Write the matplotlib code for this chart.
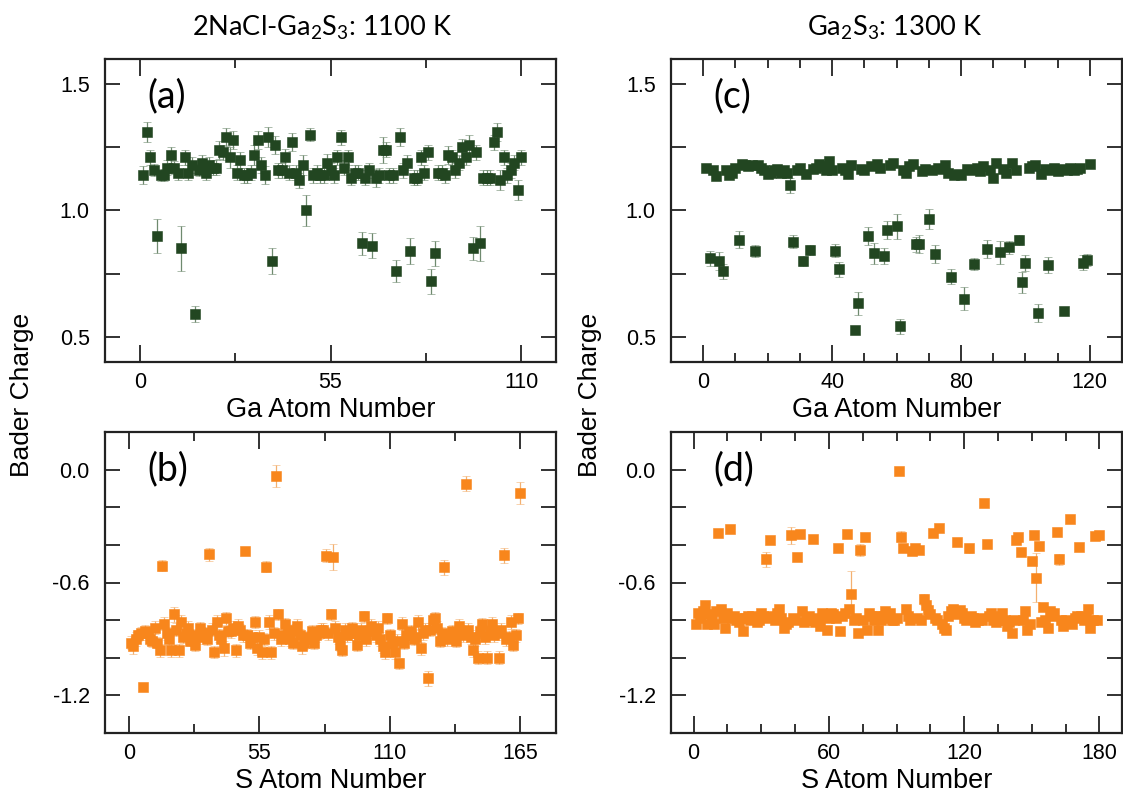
import matplotlib
matplotlib.use("Agg")
import matplotlib.pyplot as plt
from matplotlib.ticker import FixedLocator
import numpy as np

plt.rcParams['font.family'] = ['Liberation Sans', 'DejaVu Sans']
plt.rcParams['mathtext.fontset'] = 'custom'
plt.rcParams['mathtext.rm'] = 'Lato'

# ---------------- data ----------------
# (a) Ga atoms, 2NaCl-Ga2S3 at 1100 K
ga_1100_charge = [
    1.14, 1.31, 1.21, 1.16, 0.90, 1.14, 1.14, 1.17, 1.22, 1.17,
    1.15, 0.85, 1.21, 1.15, 1.18, 0.59, 1.16, 1.19, 1.15, 1.18,
    1.17, 1.17, 1.24, 1.23, 1.29, 1.21, 1.28, 1.15, 1.20, 1.14,
    1.14, 1.15, 1.22, 1.28, 1.18, 1.14, 1.29, 0.80, 1.26, 1.16,
    1.16, 1.21, 1.15, 1.27, 1.15, 1.12, 1.18, 1.00, 1.30, 1.14,
    1.15, 1.14, 1.14, 1.19, 1.16, 1.14, 1.21, 1.29, 1.17, 1.21,
    1.13, 1.15, 1.15, 0.87, 1.13, 1.16, 0.86, 1.13, 1.14, 1.24,
    1.24, 1.14, 1.14, 0.76, 1.29, 1.16, 1.19, 0.84, 1.13, 1.13,
    1.21, 1.15, 1.23, 0.72, 0.83, 1.15, 1.15, 1.14, 1.22, 1.21,
    1.16, 1.19, 1.25, 1.21, 1.26, 0.85, 1.23, 0.87, 1.13, 1.13,
    1.13, 1.27, 1.31, 1.12, 1.21, 1.14, 1.16, 1.19, 1.08, 1.21,
]
ga_1100_err = [
    0.035, 0.04, 0.03, 0.025, 0.067, 0.025, 0.025, 0.03, 0.03, 0.025,
    0.03, 0.09, 0.03, 0.03, 0.03, 0.03, 0.025, 0.03, 0.03, 0.03,
    0.03, 0.03, 0.035, 0.03, 0.035, 0.04, 0.035, 0.03, 0.03, 0.03,
    0.03, 0.03, 0.04, 0.035, 0.03, 0.035, 0.04, 0.05, 0.035, 0.03,
    0.03, 0.035, 0.03, 0.035, 0.03, 0.03, 0.04, 0.06, 0.025, 0.03,
    0.03, 0.03, 0.03, 0.035, 0.03, 0.03, 0.03, 0.03, 0.03, 0.03,
    0.03, 0.03, 0.03, 0.045, 0.03, 0.03, 0.05, 0.035, 0.03, 0.05,
    0.03, 0.03, 0.03, 0.045, 0.035, 0.03, 0.03, 0.05, 0.03, 0.03,
    0.03, 0.03, 0.03, 0.05, 0.05, 0.03, 0.03, 0.03, 0.035, 0.03,
    0.03, 0.03, 0.035, 0.03, 0.04, 0.045, 0.03, 0.07, 0.03, 0.03,
    0.03, 0.03, 0.035, 0.04, 0.03, 0.03, 0.03, 0.03, 0.04, 0.03,
]

# (b) S atoms, 2NaCl-Ga2S3 at 1100 K
s_1100_charge = [
    -0.92, -0.94, -0.90, -0.88, -0.87, -1.156, -0.86, -0.87, -0.90, -0.91,
    -0.84, -0.92, -0.96, -0.51, -0.82, -0.87, -0.90, -0.96, -0.77, -0.85,
    -0.96, -0.81, -0.89, -0.87, -0.84, -0.91, -0.88, -0.93, -0.89, -0.84,
    -0.87, -0.87, -0.90, -0.45, -0.85, -0.97, -0.81, -0.88, -0.90, -0.95,
    -0.79, -0.86, -0.86, -0.84, -0.96, -0.83, -0.85, -0.88, -0.43, -0.88,
    -0.92, -0.89, -0.81, -0.95, -0.89, -0.97, -0.90, -0.515, -0.81, -0.97,
    -0.87, -0.035, -0.77, -0.90, -0.88, -0.82, -0.86, -0.90, -0.92, -0.85,
    -0.83, -0.88, -0.94, -0.92, -0.90, -0.89, -0.86, -0.92, -0.88, -0.87,
    -0.85, -0.85, -0.457, -0.87, -0.77, -0.466, -0.84, -0.89, -0.93, -0.96,
    -0.85, -0.88, -0.87, -0.84, -0.87, -0.93, -0.88, -0.85, -0.78, -0.90,
    -0.86, -0.83, -0.85, -0.88, -0.84, -0.90, -0.94, -0.97, -0.79, -0.88,
    -0.92, -0.97, -0.91, -1.03, -0.82, -0.92, -0.88, -0.87, -0.86, -0.90,
    -0.89, -0.81, -0.95, -0.87, -0.85, -1.11, -0.85, -0.80, -0.79, -0.84,
    -0.91, -0.87, -0.52, -0.90, -0.88, -0.86, -0.89, -0.91, -0.83, -0.86,
    -0.88, -0.074, -0.85, -0.89, -0.96, -0.90, -1.00, -0.86, -0.82, -0.89,
    -1.00, -0.86, -0.82, -0.88, -0.87, -1.00, -0.85, -0.454, -0.90, -0.89,
    -0.81, -0.93, -0.88, -0.79, -0.124,
]
s_1100_err = [
    0.035, 0.04, 0.035, 0.03, 0.035, 0.02, 0.035, 0.035, 0.03, 0.035,
    0.035, 0.03, 0.035, 0.03, 0.035, 0.035, 0.03, 0.035, 0.04, 0.035,
    0.035, 0.035, 0.03, 0.035, 0.035, 0.03, 0.035, 0.035, 0.035, 0.03,
    0.035, 0.035, 0.03, 0.035, 0.035, 0.03, 0.035, 0.035, 0.035, 0.04,
    0.035, 0.03, 0.035, 0.035, 0.035, 0.035, 0.03, 0.035, 0.015, 0.035,
    0.035, 0.035, 0.03, 0.035, 0.035, 0.035, 0.03, 0.03, 0.035, 0.035,
    0.035, 0.06, 0.03, 0.035, 0.035, 0.03, 0.035, 0.035, 0.035, 0.03,
    0.035, 0.035, 0.04, 0.035, 0.035, 0.03, 0.035, 0.035, 0.035, 0.03,
    0.035, 0.035, 0.035, 0.035, 0.03, 0.07, 0.035, 0.035, 0.035, 0.03,
    0.035, 0.035, 0.035, 0.03, 0.035, 0.035, 0.035, 0.035, 0.03, 0.035,
    0.035, 0.035, 0.03, 0.035, 0.035, 0.035, 0.035, 0.035, 0.03, 0.035,
    0.035, 0.035, 0.035, 0.03, 0.035, 0.035, 0.035, 0.035, 0.035, 0.03,
    0.035, 0.035, 0.035, 0.035, 0.035, 0.04, 0.035, 0.03, 0.035, 0.035,
    0.035, 0.035, 0.04, 0.035, 0.035, 0.035, 0.03, 0.035, 0.035, 0.035,
    0.035, 0.04, 0.035, 0.035, 0.035, 0.035, 0.035, 0.035, 0.03, 0.035,
    0.035, 0.035, 0.035, 0.035, 0.035, 0.035, 0.035, 0.04, 0.035, 0.03,
    0.035, 0.035, 0.035, 0.03, 0.06,
]

# (c) Ga atoms, Ga2S3 at 1300 K
ga_1300_charge = [
    1.17, 0.81, 1.16, 1.135, 0.80, 0.76, 1.16, 1.14, 1.15, 1.17,
    0.885, 1.185, 1.18, 1.175, 1.18, 0.84, 1.18, 1.17, 1.16, 1.145,
    1.15, 1.16, 1.165, 1.15, 1.16, 1.15, 1.10, 0.877, 1.16, 1.17,
    0.80, 1.145, 0.843, 1.165, 1.17, 1.185, 1.175, 1.16, 1.195, 1.16,
    0.841, 0.767, 1.17, 1.16, 1.145, 1.18, 0.528, 0.633, 1.165, 1.16,
    0.90, 1.175, 0.83, 1.185, 1.17, 0.82, 0.923, 1.18, 1.19, 0.938,
    0.542, 1.16, 1.15, 1.175, 1.185, 0.867, 0.867, 1.155, 1.165, 0.967,
    1.16, 0.828, 1.17, 1.165, 1.18, 1.15, 0.737, 1.14, 1.145, 1.14,
    0.651, 1.165, 1.16, 0.788, 1.17, 1.155, 1.175, 0.847, 1.16, 1.13,
    1.19, 0.834, 1.165, 1.15, 0.854, 1.19, 1.16, 0.883, 0.715, 0.792,
    1.17, 1.175, 1.18, 0.593, 1.145, 1.165, 0.784, 1.16, 1.17, 1.155,
    1.165, 0.602, 1.16, 1.17, 1.16, 1.165, 1.17, 0.794, 0.804, 1.185,
]
ga_1300_err = [
    0.015, 0.03, 0.015, 0.015, 0.035, 0.03, 0.015, 0.015, 0.015, 0.015,
    0.035, 0.015, 0.015, 0.015, 0.015, 0.025, 0.015, 0.015, 0.015, 0.015,
    0.015, 0.015, 0.015, 0.015, 0.015, 0.015, 0.03, 0.025, 0.015, 0.015,
    0.02, 0.015, 0.02, 0.015, 0.015, 0.015, 0.015, 0.015, 0.015, 0.015,
    0.025, 0.03, 0.015, 0.015, 0.015, 0.015, 0.015, 0.045, 0.015, 0.015,
    0.035, 0.015, 0.04, 0.015, 0.015, 0.03, 0.035, 0.015, 0.015, 0.05,
    0.03, 0.015, 0.015, 0.015, 0.015, 0.03, 0.035, 0.015, 0.015, 0.04,
    0.015, 0.035, 0.015, 0.015, 0.015, 0.015, 0.03, 0.015, 0.015, 0.015,
    0.045, 0.015, 0.015, 0.025, 0.015, 0.015, 0.015, 0.035, 0.015, 0.015,
    0.015, 0.045, 0.015, 0.015, 0.025, 0.015, 0.015, 0.02, 0.04, 0.03,
    0.015, 0.015, 0.015, 0.035, 0.015, 0.015, 0.03, 0.015, 0.015, 0.015,
    0.015, 0.01, 0.015, 0.015, 0.015, 0.015, 0.015, 0.03, 0.025, 0.015,
]

# (d) S atoms, Ga2S3 at 1300 K
s_1300_charge = [
    -0.82, -0.76, -0.79, -0.75, -0.72, -0.82, -0.77, -0.80, -0.82, -0.75,
    -0.339, -0.74, -0.79, -0.84, -0.76, -0.318, -0.79, -0.78, -0.80, -0.81,
    -0.79, -0.86, -0.79, -0.78, -0.80, -0.78, -0.79, -0.81, -0.80, -0.76,
    -0.78, -0.477, -0.79, -0.374, -0.78, -0.80, -0.76, -0.74, -0.79, -0.84,
    -0.82, -0.81, -0.348, -0.79, -0.80, -0.466, -0.342, -0.75, -0.81, -0.80,
    -0.78, -0.80, -0.369, -0.81, -0.79, -0.83, -0.76, -0.78, -0.85, -0.79,
    -0.76, -0.77, -0.79, -0.418, -0.86, -0.78, -0.76, -0.344, -0.74, -0.662,
    -0.80, -0.79, -0.87, -0.427, -0.80, -0.357, -0.85, -0.76, -0.78, -0.80,
    -0.78, -0.85, -0.80, -0.78, -0.75, -0.79, -0.76, -0.80, -0.80, -0.79,
    -0.007, -0.357, -0.415, -0.74, -0.78, -0.80, -0.432, -0.418, -0.79, -0.427,
    -0.80, -0.69, -0.72, -0.745, -0.77, -0.335, -0.79, -0.80, -0.312, -0.82,
    -0.84, -0.85, -0.78, -0.75, -0.74, -0.77, -0.387, -0.745, -0.76, -0.79,
    -0.80, -0.418, -0.78, -0.79, -0.81, -0.80, -0.79, -0.80, -0.175, -0.395,
    -0.78, -0.76, -0.80, -0.81, -0.80, -0.78, -0.76, -0.80, -0.83, -0.81,
    -0.87, -0.80, -0.374, -0.357, -0.436, -0.80, -0.75, -0.85, -0.82, -0.484,
    -0.348, -0.574, -0.404, -0.81, -0.73, -0.80, -0.84, -0.75, -0.78, -0.76,
    -0.334, -0.477, -0.80, -0.83, -0.80, -0.81, -0.265, -0.82, -0.79, -0.78,
    -0.41, -0.78, -0.80, -0.79, -0.74, -0.84, -0.80, -0.353, -0.80, -0.35,
]
s_1300_err = [
    0.012, 0.012, 0.012, 0.012, 0.012, 0.012, 0.012, 0.012, 0.012, 0.012,
    0.012, 0.012, 0.012, 0.012, 0.012, 0.012, 0.012, 0.012, 0.012, 0.012,
    0.012, 0.012, 0.012, 0.012, 0.012, 0.012, 0.012, 0.012, 0.012, 0.012,
    0.012, 0.04, 0.012, 0.015, 0.012, 0.012, 0.012, 0.012, 0.012, 0.012,
    0.012, 0.012, 0.045, 0.012, 0.012, 0.012, 0.012, 0.012, 0.012, 0.012,
    0.012, 0.012, 0.012, 0.012, 0.012, 0.012, 0.012, 0.012, 0.012, 0.012,
    0.012, 0.012, 0.012, 0.012, 0.012, 0.012, 0.012, 0.012, 0.012, 0.125,
    0.012, 0.012, 0.012, 0.03, 0.012, 0.02, 0.012, 0.012, 0.012, 0.012,
    0.012, 0.012, 0.012, 0.012, 0.012, 0.012, 0.012, 0.012, 0.012, 0.012,
    0.012, 0.03, 0.012, 0.012, 0.012, 0.012, 0.012, 0.012, 0.012, 0.012,
    0.012, 0.03, 0.012, 0.012, 0.012, 0.012, 0.012, 0.012, 0.012, 0.012,
    0.012, 0.012, 0.012, 0.012, 0.012, 0.012, 0.012, 0.012, 0.012, 0.012,
    0.012, 0.025, 0.012, 0.012, 0.012, 0.012, 0.012, 0.012, 0.02, 0.012,
    0.012, 0.012, 0.012, 0.012, 0.012, 0.012, 0.012, 0.012, 0.012, 0.012,
    0.012, 0.012, 0.012, 0.015, 0.012, 0.012, 0.012, 0.012, 0.012, 0.012,
    0.012, 0.13, 0.02, 0.012, 0.012, 0.012, 0.012, 0.012, 0.012, 0.012,
    0.012, 0.03, 0.012, 0.012, 0.012, 0.012, 0.012, 0.012, 0.012, 0.012,
    0.02, 0.012, 0.012, 0.012, 0.012, 0.012, 0.012, 0.012, 0.012, 0.012,
]

col_titles = ["2NaCl-Ga$\\mathregular{_2}$S$\\mathregular{_3}$: 1100 K",
              "Ga$\\mathregular{_2}$S$\\mathregular{_3}$: 1300 K"]
panel_tags = ["(a)", "(b)", "(c)", "(d)"]

GREEN = "#224621"
GREEN_ERR = "#6f8a6f"
ORANGE = "#f8861c"
ORANGE_ERR = "#f3b070"

# ---------------- figure ----------------
W, H = 1123, 798
fig = plt.figure(figsize=(W / 100, H / 100), dpi=100)


def px_axes(x0, y0, x1, y1):
    return fig.add_axes([x0 / W, 1 - y1 / H, (x1 - x0) / W, (y1 - y0) / H])


ax_a = px_axes(105, 59, 556, 362)
ax_b = px_axes(105, 432, 556, 733)
ax_c = px_axes(671, 59, 1122, 362)
ax_d = px_axes(671, 432, 1122, 733)


def draw(ax, vals, errs, color, ecolor):
    x = np.arange(1, len(vals) + 1)
    ax.errorbar(x, vals, yerr=errs, fmt='s', ms=6.6, color=color,
                mec=color, mew=0.4, ecolor=ecolor, elinewidth=0.9,
                capsize=3.2, capthick=0.9, zorder=3)


def style(ax, xlim, ylim, xmajor, xminor, ymajor, yminor, xlabels, ylabels):
    ax.set_xlim(*xlim)
    ax.set_ylim(*ylim)
    ax.xaxis.set_major_locator(FixedLocator(xmajor))
    ax.xaxis.set_minor_locator(FixedLocator(xminor))
    ax.yaxis.set_major_locator(FixedLocator(ymajor))
    ax.yaxis.set_minor_locator(FixedLocator(yminor))
    ax.set_xticklabels(xlabels)
    ax.set_yticklabels(ylabels)
    ax.tick_params(which='both', direction='in', top=True, right=True,
                   width=1.3, color='#222222', labelsize=15.5)
    ax.tick_params(axis='x', which='major', length=12, pad=7)
    ax.tick_params(axis='x', which='minor', length=6.5)
    ax.tick_params(axis='y', which='both', length=11, pad=11)
    for sp in ax.spines.values():
        sp.set_linewidth(1.6)
        sp.set_color('#222222')


draw(ax_a, ga_1100_charge, ga_1100_err, GREEN, GREEN_ERR)
draw(ax_b, s_1100_charge, s_1100_err, ORANGE, ORANGE_ERR)
draw(ax_c, ga_1300_charge, ga_1300_err, GREEN, GREEN_ERR)
draw(ax_d, s_1300_charge, s_1300_err, ORANGE, ORANGE_ERR)

ga_yticks = [0.5, 1.0, 1.5]
ga_ylabels = ["0.5", "1.0", "1.5"]
s_yticks = [-1.2, -0.6, 0.0]
s_ylabels = ["-1.2", "-0.6", "0.0"]

style(ax_a, (-10, 120), (0.4, 1.6), [0, 55, 110], [27.5, 82.5],
      ga_yticks, [0.75, 1.25], ["0", "55", "110"], ga_ylabels)
style(ax_b, (-10, 180), (-1.4, 0.2), [0, 55, 110, 165], [27.5, 82.5, 137.5],
      s_yticks, [-1.0, -0.8, -0.4, -0.2], ["0", "55", "110", "165"], s_ylabels)
style(ax_c, (-10, 130), (0.4, 1.6), [0, 40, 80, 120],
      [10, 20, 30, 50, 60, 70, 90, 100, 110],
      ga_yticks, [0.75, 1.25], ["0", "40", "80", "120"], ga_ylabels)
style(ax_d, (-10, 190), (-1.4, 0.2), [0, 60, 120, 180],
      [15, 30, 45, 75, 90, 105, 135, 150, 165],
      s_yticks, [-1.0, -0.8, -0.4, -0.2], ["0", "60", "120", "180"], s_ylabels)

for ax in (ax_a, ax_c):
    ax.set_xlabel("Ga Atom Number", fontsize=19.5, labelpad=3)
for ax in (ax_b, ax_d):
    ax.set_xlabel("S Atom Number", fontsize=19.5, labelpad=3)

for ax, tag in zip((ax_a, ax_b, ax_c, ax_d), panel_tags):
    ax.text(0.093, 0.935, tag, transform=ax.transAxes, fontsize=27,
            family=['Lato', 'DejaVu Sans'], ha='left', va='top')

fig.text(22 / W, 1 - 395 / H, "Bader Charge", rotation=90, fontsize=19,
         ha='center', va='center')
fig.text(590 / W, 1 - 395 / H, "Bader Charge", rotation=90, fontsize=19,
         ha='center', va='center')

fig.text(322 / W, 1 - 28 / H, col_titles[0], fontsize=19.5,
         family=['Lato', 'DejaVu Sans'], ha='center', va='center')
fig.text(895 / W, 1 - 28 / H, col_titles[1], fontsize=19.5,
         family=['Lato', 'DejaVu Sans'], ha='center', va='center')

fig.savefig("out.png", dpi=100)
